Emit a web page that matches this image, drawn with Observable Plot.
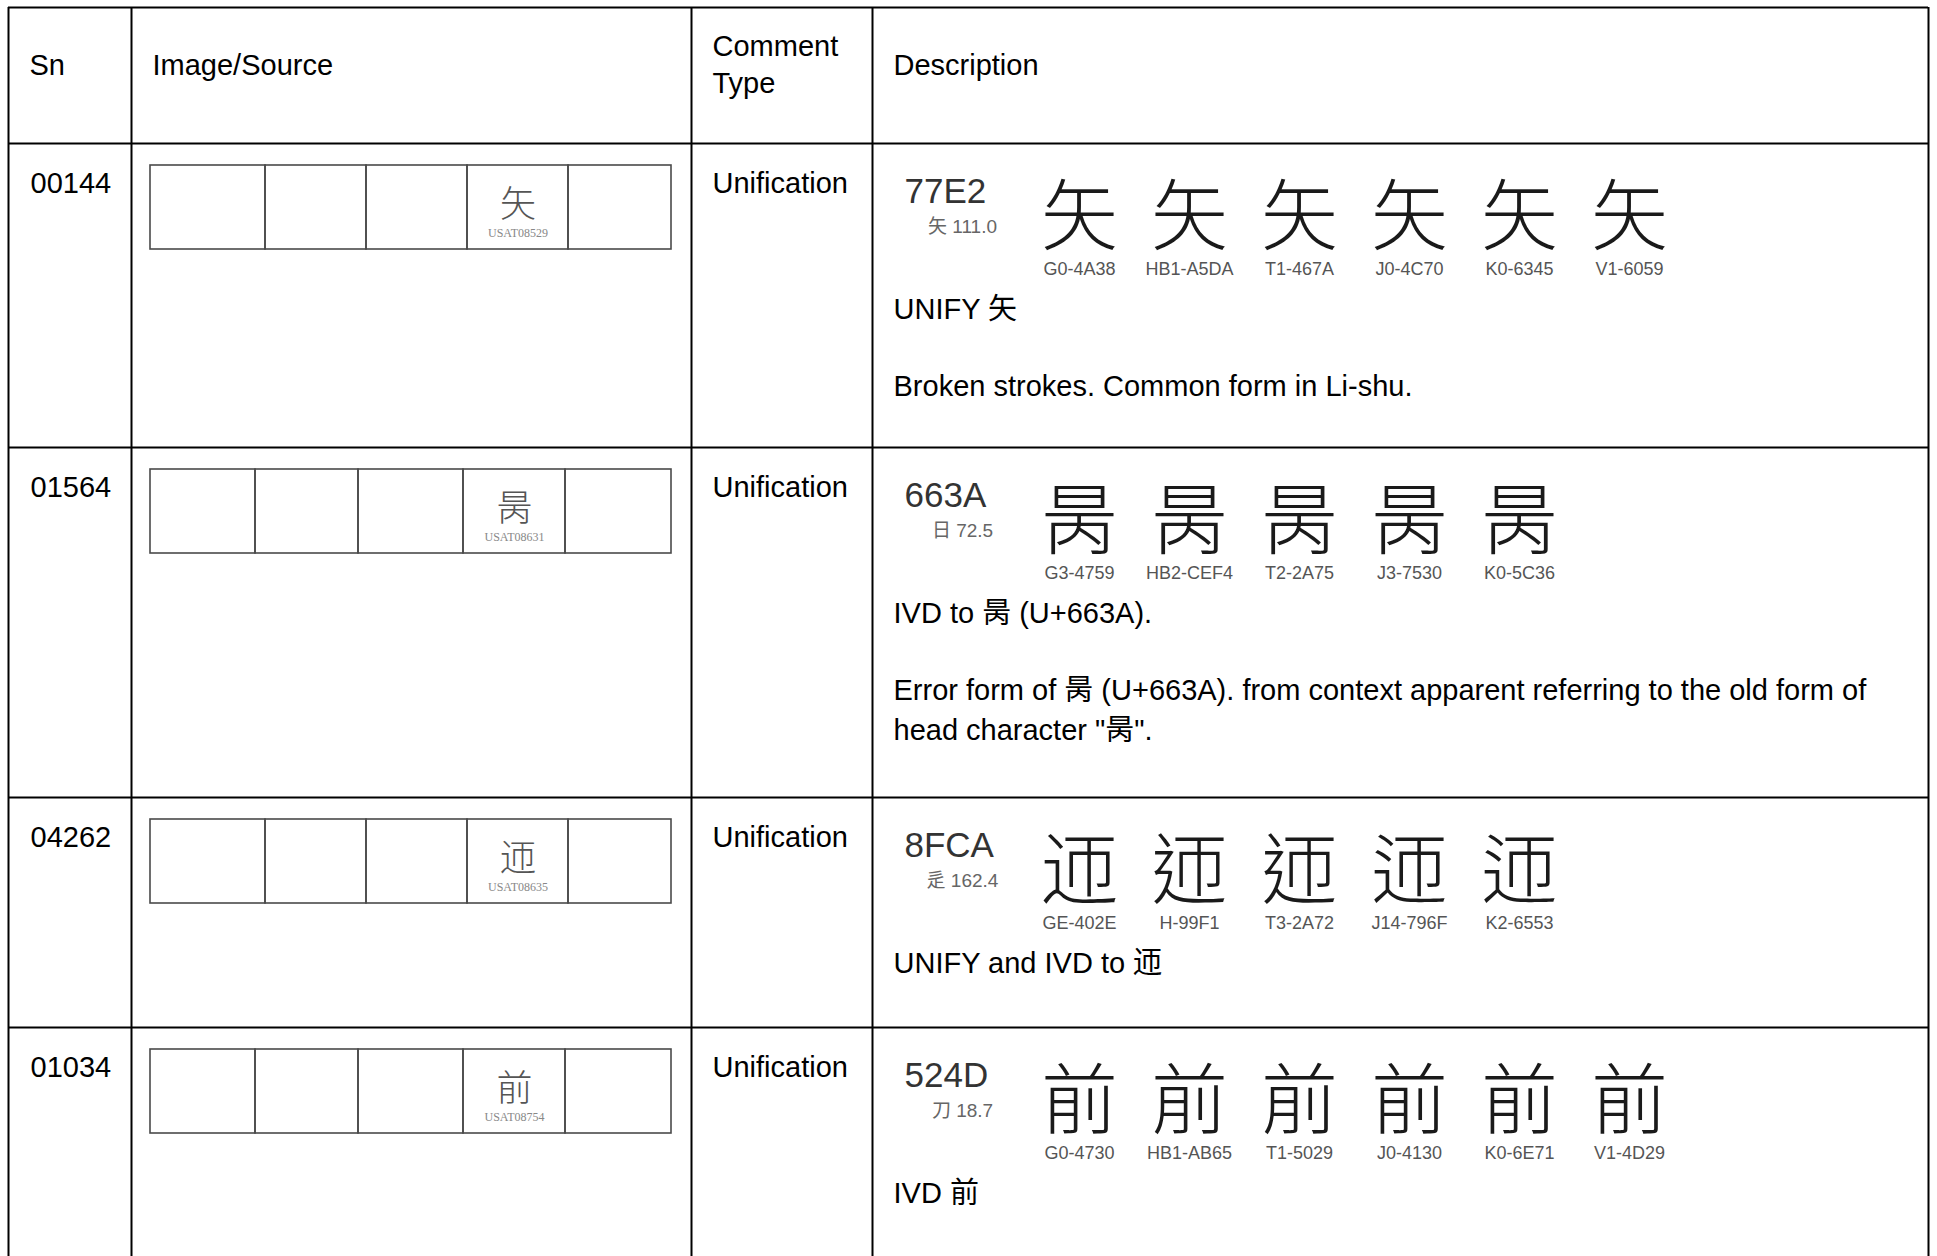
<!DOCTYPE html>
<html><head><meta charset="utf-8">
<script src="https://cdn.jsdelivr.net/npm/d3@7"></script>
<script src="https://cdn.jsdelivr.net/npm/@observablehq/plot@0.6"></script>
<style>body{margin:0;background:#fff}</style>
</head><body><div id="chart"></div>
<script>
// ---------- data ----------
const headers = ["Sn", "Image/Source", "Comment\nType", "Description"];
const sn = ["00144", "01564", "04262", "01034"];
const commentType = ["Unification", "Unification", "Unification", "Unification"];
const codepoints = ["77E2", "663A", "8FCA", "524D"];
const radicals = ["矢 111.0", "日 72.5", "辵 162.4", "刀 18.7"];
const headChars = ["矢", "昺", "迊", "前"];
const sourceChars = ["矢", "昺", "迊", "前"];
const sourceIds = ["USAT08529", "USAT08631", "USAT08635", "USAT08754"];
const sourceSlot = [3, 3, 3, 3];
const glyphSources = [
  ["G0-4A38", "HB1-A5DA", "T1-467A", "J0-4C70", "K0-6345", "V1-6059"],
  ["G3-4759", "HB2-CEF4", "T2-2A75", "J3-7530", "K0-5C36"],
  ["GE-402E", "H-99F1", "T3-2A72", "J14-796F", "K2-6553"],
  ["G0-4730", "HB1-AB65", "T1-5029", "J0-4130", "K0-6E71", "V1-4D29"]
];
const descriptions = [
  ["UNIFY 矢", "Broken strokes. Common form in Li-shu."],
  ["IVD to 昺 (U+663A).", "Error form of 昺 (U+663A). from context apparent referring to the old form of\nhead character \"昺\"."],
  ["UNIFY and IVD to 迊"],
  ["IVD 前"]
];

// ---------- layout (pixels) ----------
const W = 1937, H = 1256;
const cols = [8, 131, 691, 872, 1928];
const rows = [7, 143, 447, 797, 1027];
const stripA = [150, 265, 366, 467, 568, 671];
const stripB = [150, 255, 358, 463, 565, 671];
const strips = [stripA, stripB, stripA, stripB];
const regionFont = {
  G: "Noto Sans CJK SC", H: "Noto Sans CJK TC", T: "Noto Sans CJK TC",
  J: "Noto Sans CJK JP", K: "Noto Sans CJK KR", V: "Noto Sans CJK SC"
};
const SANS = "Liberation Sans, Arial, Noto Sans CJK SC, sans-serif";

// ---------- derived tables ----------
const headerText = headers.map((t, j) => ({t, x: cols[j] + 21, y: j === 2 ? 92 : 74}));
const rowTops = rows.slice(1);
const cellText = [];
const codeText = [], radText = [], glyphs = [], glyphLabels = [], descText = [];
const stripCells = [], stripChars = [], stripLabels = [];
rowTops.forEach((top, i) => {
  cellText.push({t: sn[i], x: cols[0] + 22, y: top + 49});
  cellText.push({t: commentType[i], x: cols[2] + 21, y: top + 49});
  codeText.push({t: codepoints[i], x: cols[3] + 32, y: top + 59});
  radText.push({t: radicals[i], x: cols[3] + 90, y: top + 89});
  glyphSources[i].forEach((s, k) => {
    glyphs.push({t: headChars[i], x: 1079 + k * 110, y: top + 100, font: regionFont[s[0]]});
    glyphLabels.push({t: s, x: 1079 + k * 110, y: top + 131});
  });
  descriptions[i].forEach((d, k) => {
    descText.push({t: d, x: cols[3] + 21, y: top + (k === 0 ? 175 : 252) + (d.split("\n").length - 1) * 40});
  });
  const s = strips[i];
  for (let c = 0; c < s.length - 1; c++) {
    stripCells.push({x1: s[c], x2: s[c + 1], y1: top + 22, y2: top + 106});
  }
  const slot = sourceSlot[i];
  const cx = (s[slot] + s[slot + 1]) / 2;
  stripChars.push({t: sourceChars[i], x: cx, y: top + 73});
  stripLabels.push({t: sourceIds[i], x: cx, y: top + 93});
});

const fonts = Array.from(new Set(glyphs.map(d => d.font)));

const chart = Plot.plot({
  width: W, height: H,
  margin: 0, marginTop: 0, marginRight: 0, marginBottom: 0, marginLeft: 0,
  x: {domain: [0, W], range: [0, W], axis: null},
  y: {domain: [0, H], range: [0, H], axis: null},
  style: {background: "#fff", fontFamily: SANS},
  marks: [
    // strip cells
    Plot.rect(stripCells, {x1: "x1", x2: "x2", y1: "y1", y2: "y2", fill: "none", stroke: "#4a4a4a", strokeWidth: 1.6}),
    Plot.text(stripChars, {x: "x", y: "y", text: "t", fontSize: 36, fill: "#555", lineAnchor: "bottom", fontFamily: "Noto Sans CJK SC", fontWeight: 300}),
    Plot.text(stripLabels, {x: "x", y: "y", text: "t", fontSize: 12, fill: "#888", lineAnchor: "bottom", fontFamily: "Liberation Serif, serif"}),
    // grid
    Plot.ruleY(rows, {y: d => d, x1: cols[0], x2: cols[cols.length - 1], stroke: "#000", strokeWidth: 2}),
    Plot.ruleX(cols, {x: d => d, y1: rows[0], y2: H, stroke: "#000", strokeWidth: 2}),
    // headers and cells
    Plot.text(headerText, {x: "x", y: "y", text: "t", fontSize: 29, fill: "#000", textAnchor: "start", lineAnchor: "bottom", lineHeight: 1.276}),
    Plot.text(cellText, {x: "x", y: "y", text: "t", fontSize: 29, fill: "#000", textAnchor: "start", lineAnchor: "bottom"}),
    // description block
    Plot.text(codeText, {x: "x", y: "y", text: "t", fontSize: 35, fill: "#333", textAnchor: "start", lineAnchor: "bottom"}),
    Plot.text(radText, {x: "x", y: "y", text: "t", fontSize: 19, fill: "#666", textAnchor: "middle", lineAnchor: "bottom"}),
    ...fonts.map(f => Plot.text(glyphs.filter(d => d.font === f), {x: "x", y: "y", text: "t", fontSize: 77, fill: "#1a1a1a", fontWeight: 300, lineAnchor: "bottom", fontFamily: f})),
    Plot.text(glyphLabels, {x: "x", y: "y", text: "t", fontSize: 18, fill: "#555", lineAnchor: "bottom"}),
    Plot.text(descText, {x: "x", y: "y", text: "t", fontSize: 29, fill: "#000", textAnchor: "start", lineAnchor: "bottom", lineHeight: 40 / 29})
  ]
});
document.getElementById("chart").appendChild(chart);
</script></body></html>
